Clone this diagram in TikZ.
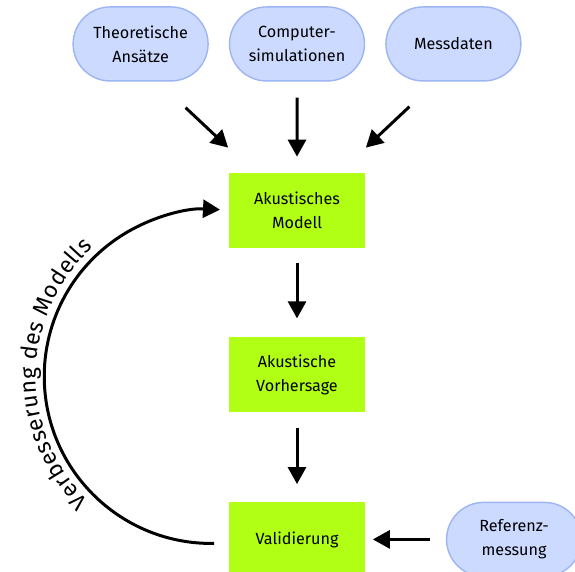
\documentclass[tikz,border=0pt]{standalone}
\usepackage{fontspec}
\setmainfont{Fira Sans}
\usetikzlibrary{arrows.meta, positioning, shapes.misc, calc, decorations.text}
\definecolor{modelGreen}{HTML}{B0FF14}
\definecolor{inputBlue}{HTML}{CCDAFF}
\definecolor{inputEdge}{HTML}{9DB5F5}
\newcommand{\arcfont}{\fontsize{13}{15}\selectfont}
\tikzset{
  arrowK/.style={-{Triangle[length=0.34cm, width=0.36cm]}, black, line width=1.7pt},
  boxGreen/.style={rectangle, fill=modelGreen, draw=modelGreen, align=center,
                   font=\fontsize{9.2}{13.6}\selectfont, inner sep=0pt,
                   minimum width=2.7cm, minimum height=1.48cm},
  boxBlue/.style={rounded rectangle, draw=inputEdge, fill=inputBlue, line width=0.8pt,
                  align=center, font=\fontsize{9.2}{13.6}\selectfont, inner sep=0pt,
                  minimum width=2.7cm, minimum height=1.48cm},
}
\begin{document}
\begin{tikzpicture}[node distance=1.8cm and 0.4cm]
  \useasboundingbox (0,0) rectangle (11.5,11.42);
  \node[boxGreen] (modell) at (5.94,7.22) {Akustisches\\Modell};
  \node[boxGreen, below=of modell] (vorhersage) {Akustische\\Vorhersage};
  \node[boxGreen, below=of vorhersage] (valid) {Validierung};
  \node[boxBlue, above=1.82cm of modell] (comp) {Computer-\\simulationen};
  \node[boxBlue, left=of comp] (theo) {Theoretische\\Ansätze};
  \node[boxBlue, right=of comp] (mess) {Messdaten};
  \node[boxBlue, right=1.62cm of valid] (ref) {Referenz-\\messung};

  \draw[arrowK] ($(theo.south)+(0.9,-0.52)$) -- ($(modell.north west)+(-0.02,0.5)$);
  \draw[arrowK, shorten <=0.32cm, shorten >=0.32cm] (comp) -- (modell);
  \draw[arrowK] ($(mess.south)+(-0.88,-0.5)$) -- ($(modell.north east)+(0.02,0.5)$);
  \draw[arrowK, shorten <=0.32cm, shorten >=0.38cm] (modell) -- (vorhersage);
  \draw[arrowK, shorten <=0.32cm, shorten >=0.36cm] (vorhersage) -- (valid);
  \draw[arrowK, shorten <=0.32cm, shorten >=0.16cm] (ref) -- (valid);

  % Rueckfuehrung
  \coordinate (loopStart) at ($(valid.west)+(-0.3,-0.08)$);
  \coordinate (loop) at ($(loopStart)+(91:3.34)$);
  \draw[arrowK] (loopStart) arc[start angle=271, end angle=87, radius=3.34cm];
  \path[decorate, decoration={text along path, text={|\arcfont|Verbesserung des Modells},
        text align=center, raise=0.16cm}]
    ($(loop)+(268:3.34)$) arc[start angle=268, end angle=90, radius=3.34cm];
\end{tikzpicture}
\end{document}
